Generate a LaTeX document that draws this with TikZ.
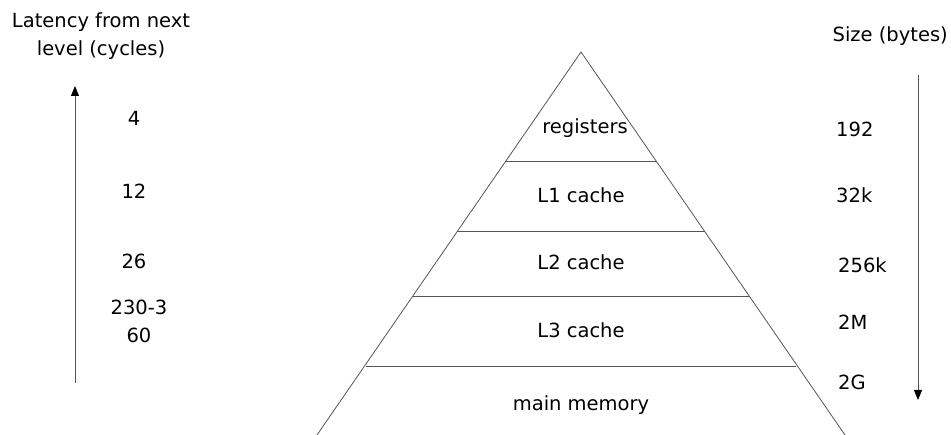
\documentclass[tikz,border=0pt]{standalone}
\usepackage{fontspec}
\setmainfont{DejaVu Sans}
\usetikzlibrary{arrows.meta}
\definecolor{linegray}{HTML}{555555}
\begin{document}
\begin{tikzpicture}[x=1pt,y=-1pt,
  lbl/.style={inner sep=0pt, font=\fontsize{19.5}{28}\selectfont, text=black},
  edge/.style={draw=linegray, line width=0.8pt},
  flow/.style={draw=linegray, line width=0.9pt, -{Triangle[length=10pt,width=8pt,black]}}]
\useasboundingbox (0,0) rectangle (951,435);
% pyramid
\coordinate (apex) at (581,52);
\coordinate (bl) at (317,435);
\coordinate (br) at (845,435);
\draw[edge] (bl) -- (apex) -- (br);
\coordinate (l1a) at (506,161); \coordinate (l1b) at (656,161);
\coordinate (l2a) at (457,231); \coordinate (l2b) at (705,231);
\coordinate (l3a) at (413,296); \coordinate (l3b) at (749,296);
\coordinate (l4a) at (366,366); \coordinate (l4b) at (796,366);
\draw[edge] (l1a) -- (l1b);
\draw[edge] (l2a) -- (l2b);
\draw[edge] (l3a) -- (l3b);
\draw[edge] (l4a) -- (l4b);
\node[lbl] (reg) at (585,128) {registers};
\node[lbl] (c1) at (581,195) {L1 cache};
\node[lbl] (c2) at (581,262) {L2 cache};
\node[lbl] (c3) at (581,330) {L3 cache};
\node[lbl] (mm) at (581,405) {main memory};
% left side
\node[lbl, align=center] (lath) at (101,36) {Latency from next\\level (cycles)};
\coordinate (lbot) at (75,383);
\coordinate (ltop) at (75,86);
\draw[flow] (lbot) -- (ltop);
\node[lbl] (n4) at (134,118) {4};
\node[lbl] (n12) at (134,191) {12};
\node[lbl] (n26) at (134,261) {26};
\node[lbl, align=center] (n230) at (139,321) {230-3\\60};
% right side
\node[lbl, anchor=east] (sizeh) at (948,36) {Size (bytes)};
\coordinate (rtop) at (918,75);
\coordinate (rbot) at (918,400);
\draw[flow] (rtop) -- (rbot);
\node[lbl, anchor=west] (s192) at (836,129) {192};
\node[lbl, anchor=west] (s32) at (836,195) {32k};
\node[lbl, anchor=west] (s256) at (838,265) {256k};
\node[lbl, anchor=west] (s2m) at (838,322) {2M};
\node[lbl, anchor=west] (s2g) at (838,382) {2G};
\end{tikzpicture}
\end{document}
